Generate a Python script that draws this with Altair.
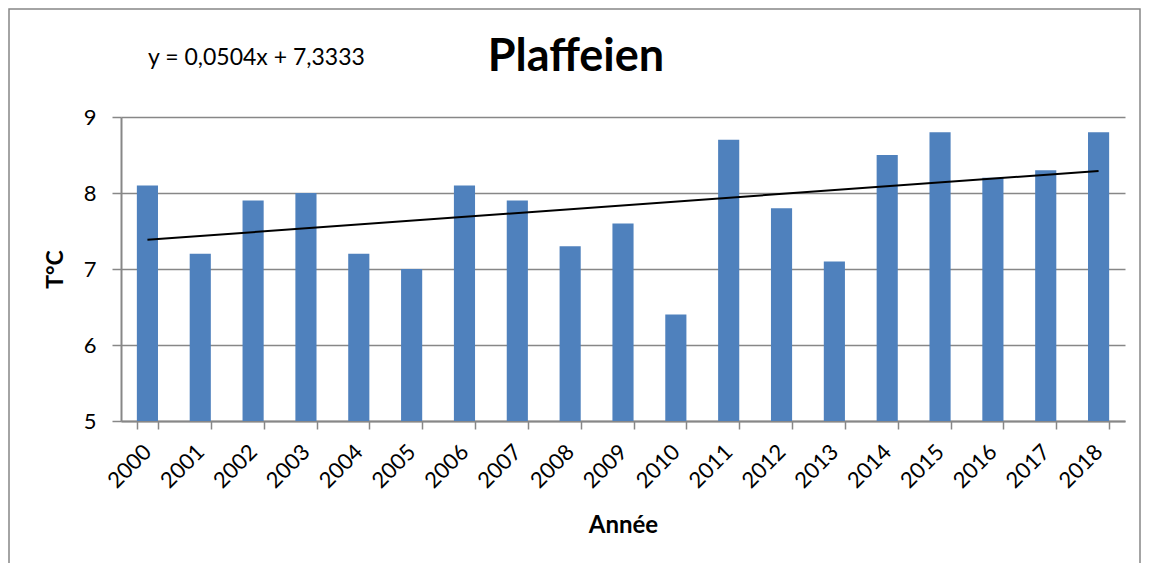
import altair as alt
import pandas as pd

years = [str(y) for y in range(2000, 2019)]
temps = [8.1, 7.2, 7.9, 8.0, 7.2, 7.0, 8.1, 7.9, 7.3, 7.6, 6.4, 8.7, 7.8, 7.1, 8.5, 8.8, 8.2, 8.3, 8.8]
idx = list(range(1, 20))
chart_title = "Plaffeien"
equation = "y = 0,0504x + 7,3333"

FONT = "Lato"
GRAY = "#878787"

df = pd.DataFrame({"year": years, "temp": temps, "idx": idx})

xenc = alt.X(
    "year:O",
    title="Année",
    scale=alt.Scale(paddingInner=0.6, paddingOuter=0.3),
    axis=alt.Axis(
        labelAngle=-45, labelAlign="right", labelBaseline="middle",
        labelFontSize=22, labelFont=FONT, labelColor="black", labelPadding=19,
        tickSize=8, tickColor=GRAY, tickWidth=1.5, tickBand="extent",
        domainColor=GRAY, domainWidth=2,
        titleFont=FONT, titleFontSize=24, titleFontWeight="bold", titleColor="black",
        titleX=502, titleY=104, titleBaseline="middle", titleAlign="center",
    ),
)
yenc = alt.Y(
    "temp:Q",
    title="T°C",
    scale=alt.Scale(domain=[5, 9], nice=False, zero=False),
    axis=alt.Axis(
        values=[5, 6, 7, 8, 9], format="d", labelFontSize=22, labelFont=FONT, labelColor="black",
        labelPadding=16, tickSize=9, tickColor=GRAY, tickWidth=1.5,
        domainColor=GRAY, domainWidth=2, gridColor=GRAY, gridWidth=1.5,
        titleFont=FONT, titleFontSize=23, titleFontWeight="bold", titleColor="black",
        titleX=-66, titleY=152, titleAngle=-90, titleAlign="center", titleBaseline="middle",
    ),
)

bars = alt.Chart(df).mark_bar(color="#4F81BD", clip=True).encode(x=xenc, y=yenc)

trend = (
    alt.Chart(df)
    .transform_regression("idx", "temp", method="linear")
    .transform_calculate(year="'' + (1999 + datum.idx)")
    .mark_line(color="black", strokeWidth=2)
    .encode(x=alt.X("year:O"), y=alt.Y("temp:Q"))
)

dummy = pd.DataFrame({"t": [chart_title], "e": [equation]})
title_mark = alt.Chart(dummy).mark_text(
    font=FONT, fontSize=45, fontWeight="bold", color="black", align="center", baseline="middle"
).encode(text="t:N", x=alt.value(455), y=alt.value(-60))
eq_mark = alt.Chart(dummy).mark_text(
    font=FONT, fontSize=23, color="black", align="left", baseline="middle"
).encode(text="e:N", x=alt.value(27), y=alt.value(-59))
border = alt.Chart(dummy).mark_rect(filled=False, stroke=GRAY, strokeWidth=1.5).encode(
    x=alt.value(-112), x2=alt.value(1019), y=alt.value(-108), y2=alt.value(520)
)

chart = (
    alt.layer(border, bars, trend, title_mark, eq_mark)
    .properties(
        width=1004, height=304,
        padding={"left": 113, "top": 109, "right": 17, "bottom": 142},
        autosize="none", background="white",
    )
    .configure_view(stroke=None)
)

chart.save("out.html", embed_options={"renderer": "svg", "actions": False})
